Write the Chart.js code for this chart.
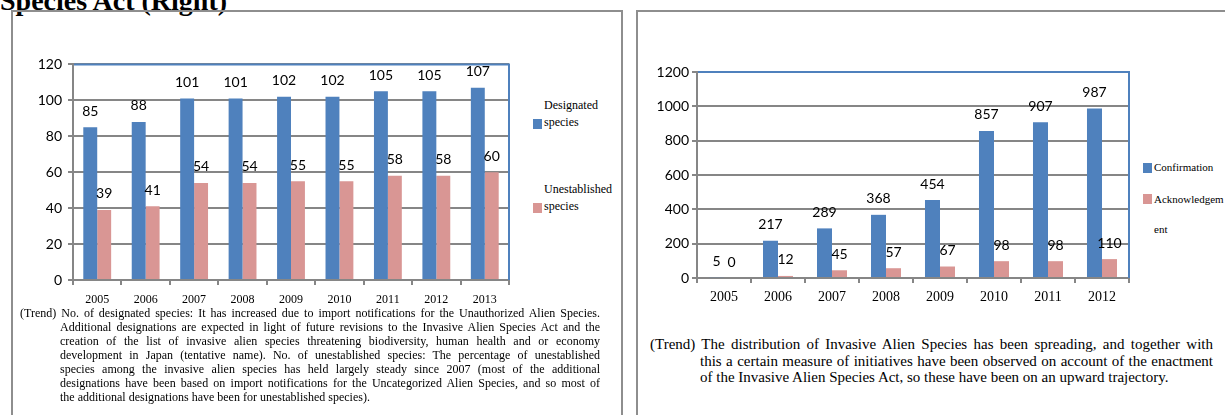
<!DOCTYPE html>
<html>
<head>
<meta charset="utf-8">
<script src="https://cdn.jsdelivr.net/npm/chart.js@4.4.0/dist/chart.umd.min.js"></script>
<style>
  body { margin: 0; width: 1225px; height: 415px; overflow: hidden; background: #fff; position: relative; font-family: "Liberation Serif", "Times New Roman", serif; color: #000; }
  .abs { position: absolute; }
  .title { left: 0; top: -13px; font-size: 28px; line-height: 28px; font-weight: bold; white-space: nowrap; }
  .panel { border: 2px solid #8e8e8e; box-sizing: border-box; }
  .lg { font-size: 12px; line-height: 17px; white-space: nowrap; }
  .lg-r { font-size: 11px; }
  .sw { width: 9px; height: 10px; }
  .cap div { text-align: justify; text-align-last: justify; white-space: nowrap; }
  .cap div.last { text-align-last: left; }
  .capL { left: 20px; top: 306px; width: 580px; font-size: 12px; line-height: 14px; }
  .capR { left: 650px; top: 336px; width: 563px; font-size: 15px; line-height: 16.5px; }
  .ind { margin-left: 40px; }
  .capR .ind { margin-left: 50px; }
</style>
</head>
<body>
<div class="abs title">Species Act (Right)</div>
<div class="abs panel" style="left:11px;top:10px;width:612px;height:420px"></div>
<div class="abs panel" style="left:636px;top:10px;width:620px;height:420px"></div>

<div class="abs" style="left:33px;top:50px"><canvas id="leftChart" width="480" height="260"></canvas></div>
<div class="abs" style="left:648px;top:60px"><canvas id="rightChart" width="485" height="250"></canvas></div>

<!-- legends -->
<div class="abs lg" style="left:544px;top:97px">Designated<br>species</div>
<div class="abs sw" style="left:533px;top:119px;background:#4F81BD"></div>
<div class="abs lg" style="left:544px;top:181px">Unestablished<br>species</div>
<div class="abs sw" style="left:533px;top:203px;background:#D99694"></div>

<div class="abs lg lg-r" style="left:1154px;top:161px;line-height:12px">Confirmation</div>
<div class="abs sw" style="left:1143px;top:163px;background:#4F81BD"></div>
<div class="abs lg lg-r" style="left:1154px;top:184px;line-height:30px;width:73px;white-space:normal;word-break:break-all">Acknowledgement</div>
<div class="abs sw" style="left:1143px;top:194px;background:#D99694"></div>

<!-- captions -->
<div class="abs cap capL">
  <div>(Trend) No. of designated species: It has increased due to import notifications for the Unauthorized Alien Species.</div>
  <div class="ind">Additional designations are expected in light of future revisions to the Invasive Alien Species Act and the</div>
  <div class="ind">creation of the list of invasive alien species threatening biodiversity, human health and or economy</div>
  <div class="ind">development in Japan (tentative name). No. of unestablished species: The percentage of unestablished</div>
  <div class="ind">species among the invasive alien species has held largely steady since 2007 (most of the additional</div>
  <div class="ind">designations have been based on import notifications for the Uncategorized Alien Species, and so most of</div>
  <div class="ind last">the additional designations have been for unestablished species).</div>
</div>
<div class="abs cap capR">
  <div>(Trend) The distribution of Invasive Alien Species has been spreading, and together with</div>
  <div class="ind">this a certain measure of initiatives have been observed on account of the enactment</div>
  <div class="ind last">of the Invasive Alien Species Act, so these have been on an upward trajectory.</div>
</div>

<script>
// left chart: designated / unestablished species
const yearsLeft = ['2005', '2006', '2007', '2008', '2009', '2010', '2011', '2012', '2013'];
const designated = [85, 88, 101, 101, 102, 102, 105, 105, 107];
const unestablished = [39, 41, 54, 54, 55, 55, 58, 58, 60];
const leftMax = 120;
const leftStep = 20;

// right chart: confirmation / acknowledgement
const yearsRight = ['2005', '2006', '2007', '2008', '2009', '2010', '2011', '2012'];
const confirmation = [5, 217, 289, 368, 454, 857, 907, 987];
const acknowledgement = [0, 12, 45, 57, 67, 98, 98, 110];
const rightMax = 1200;
const rightStep = 200;

const BLUE = '#4F81BD';
const PINK = '#D99694';
const GRID = '#868686';

// value above each bar
const barLabels = {
    id: 'barLabels',
    afterDatasetsDraw(chart, args, opts) {
        const ctx = chart.ctx;
        ctx.save();
        ctx.font = opts.font;
        ctx.fillStyle = '#000';
        ctx.textAlign = 'center';
        ctx.textBaseline = 'middle';
        chart.data.datasets.forEach((ds, i) => {
            chart.getDatasetMeta(i).data.forEach((bar, j) => {
                ctx.fillText(String(ds.data[j]), bar.x, bar.y - opts.offset);
            });
        });
        ctx.restore();
    }
};

// blue top / right edge of the plot area
const plotFrame = {
    id: 'plotFrame',
    afterDraw(chart) {
        const { ctx, chartArea: a } = chart;
        ctx.save();
        ctx.strokeStyle = BLUE;
        ctx.lineWidth = 2;
        ctx.beginPath();
        ctx.moveTo(a.left + 1, a.top);
        ctx.lineTo(a.right, a.top);
        ctx.lineTo(a.right, a.bottom);
        ctx.stroke();
        ctx.restore();
    }
};

function makeChart(id, labels, s1, s2, cfg) {
    const ctx = document.getElementById(id).getContext('2d');
    return new Chart(ctx, {
        type: 'bar',
        data: {
            labels: labels,
            datasets: [
                { data: s1, backgroundColor: BLUE, categoryPercentage: cfg.catPct, barPercentage: 1 },
                { data: s2, backgroundColor: PINK, categoryPercentage: cfg.catPct, barPercentage: 1 }
            ]
        },
        options: {
            responsive: false,
            animation: false,
            devicePixelRatio: 1,
            layout: { padding: { top: 12, right: 4, left: 0, bottom: 0 } },
            plugins: {
                legend: { display: false },
                tooltip: { enabled: false },
                barLabels: { font: cfg.labelFont, offset: 16 }
            },
            scales: {
                x: {
                    grid: { drawOnChartArea: false, color: GRID, lineWidth: 2, tickLength: 5 },
                    border: { color: GRID, width: 2 },
                    ticks: { color: '#000', padding: cfg.xPad, maxRotation: 0, font: { family: 'Liberation Serif', size: cfg.xSize } },
                    afterFit: s => { s.height = cfg.xHeight; }
                },
                y: {
                    min: 0,
                    max: cfg.max,
                    ticks: {
                        stepSize: cfg.step, color: '#000', padding: cfg.yPad,
                        font: { family: 'Lato', size: 14 },
                        callback: v => String(v)
                    },
                    grid: { color: GRID, lineWidth: 2, tickLength: 5 },
                    border: { color: GRID, width: 2 },
                    afterFit: s => { s.width = cfg.yWidth; }
                }
            }
        },
        plugins: [barLabels, plotFrame]
    });
}

makeChart('leftChart', yearsLeft, designated, unestablished, {
    catPct: 0.575, max: leftMax, step: leftStep, labelFont: '14px Lato',
    xSize: 12, xPad: 8, xHeight: 30, yWidth: 40, yPad: 6
});
makeChart('rightChart', yearsRight, confirmation, acknowledgement, {
    catPct: 0.556, max: rightMax, step: rightStep, labelFont: '14px Lato',
    xSize: 14, xPad: 6, xHeight: 32, yWidth: 49, yPad: 3
});
</script>
</body>
</html>
